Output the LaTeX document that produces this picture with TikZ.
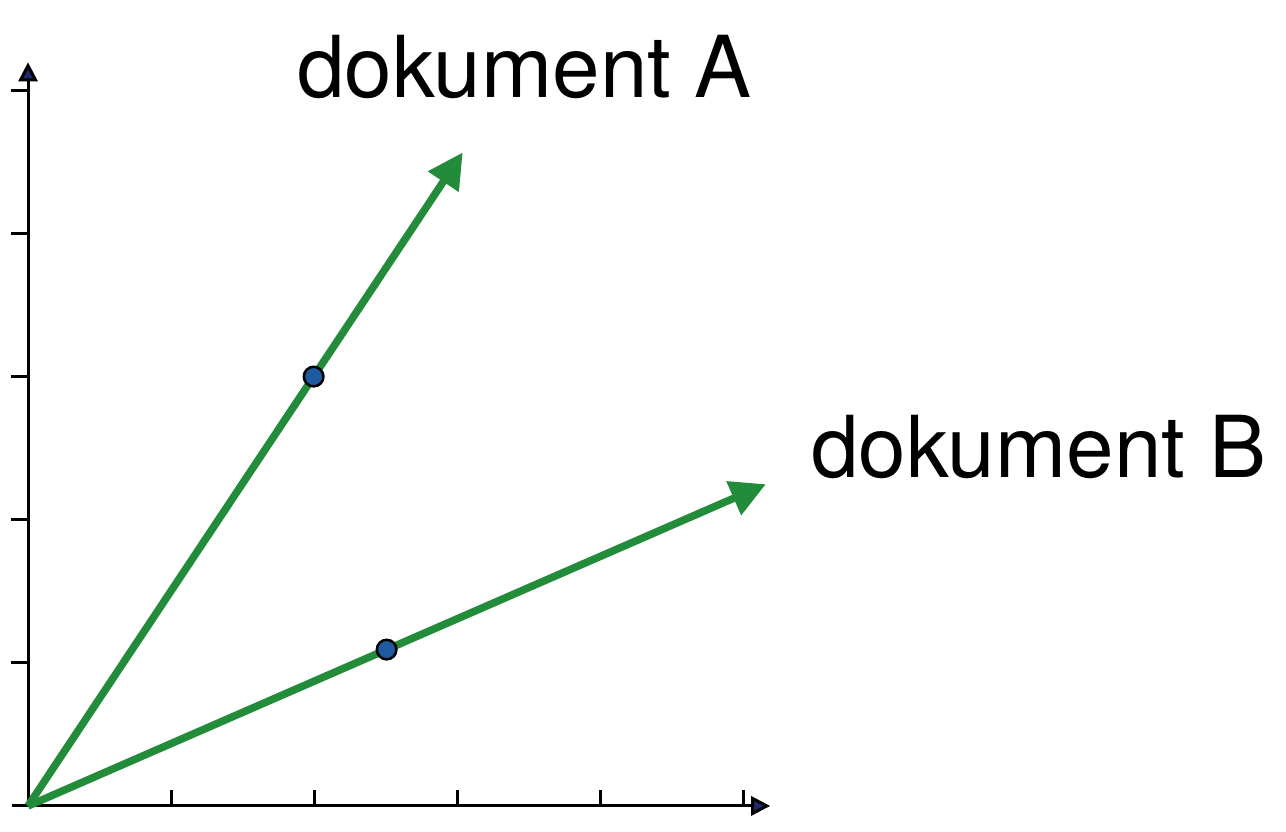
\documentclass[tikz,border=0pt]{standalone}
\usepackage{fontspec}
\setmainfont{TeX Gyre Heros}
\usetikzlibrary{arrows.meta,calc}
\definecolor{vecgreen}{RGB}{34,140,58}
\definecolor{dotblue}{RGB}{30,90,160}
\definecolor{axisnavy}{RGB}{25,45,110}
\tikzset{
  axis/.style={line width=0.6pt, -{Triangle[length=3.8pt,width=3.8pt,fill=axisnavy]}},
  tick/.style={line width=0.6pt},
  docvec/.style={vecgreen, line width=1.5pt, -{Triangle[length=7pt,width=7pt]}},
  docdot/.style={circle, draw=black, fill=dotblue, line width=0.5pt, inner sep=0pt, minimum size=3.9pt},
  doclabel/.style={inner sep=0pt, anchor=base west, font=\fontsize{17}{20}\selectfont},
}
\begin{document}
\begin{tikzpicture}
  \useasboundingbox (-0.196,-0.182) rectangle (8.797,5.636);

  % Axes
  \coordinate (O) at (0,0);
  \coordinate (xs) at (-0.11,0);
  \coordinate (xe) at (5.19,0);
  \coordinate (ye) at (0,5.2);
  \draw[axis] (xs) -- (xe);
  \draw[axis] (O) -- (ye);
  \foreach \i in {1,...,5} {
    \draw[tick] (\i,0) -- (\i,0.11);
    \draw[tick] (0,\i) -- (-0.12,\i);
  }

  % Document vectors
  \coordinate (A) at (3.04,4.57);
  \coordinate (B) at (5.16,2.25);
  \draw[docvec] (O) -- (A);
  \draw[docvec] (O) -- (B);
  \node[docdot] (dA) at ($(O)!0.657!(A)$) {};
  \node[docdot] (dB) at ($(O)!0.486!(B)$) {};

  % Labels
  \node[doclabel] (lA) at (1.874,4.951) {dokument A};
  \node[doclabel] (lB) at (5.469,2.294) {dokument B};
\end{tikzpicture}
\end{document}
